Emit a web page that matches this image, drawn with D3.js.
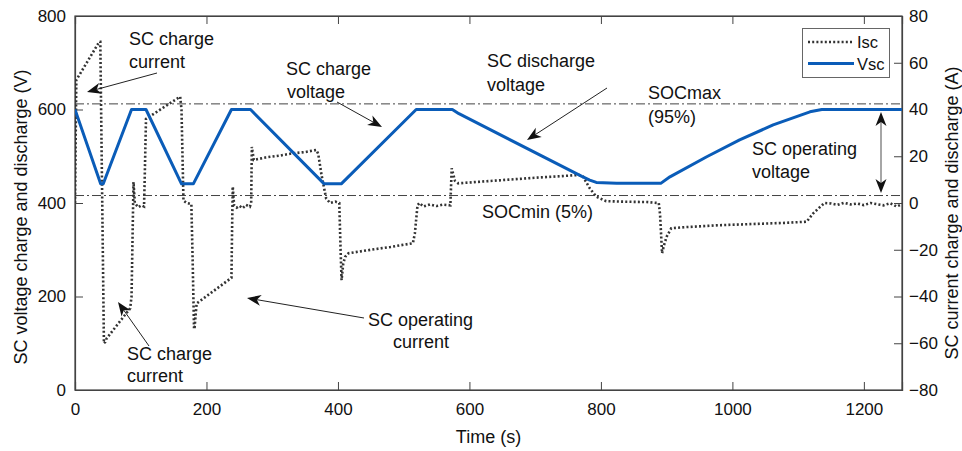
<!DOCTYPE html>
<html>
<head>
<meta charset="utf-8">
<script src="https://cdn.jsdelivr.net/npm/d3@7/dist/d3.min.js"></script>
<style>
  body { margin: 0; background: #fff; }
  svg { display: block; }
  text { font-family: "Liberation Sans", Arial, Helvetica, sans-serif; fill: #111; }
</style>
</head>
<body>
<svg id="chart" width="962" height="451"></svg>
<script>
// Axis ticks
const timeTicks = [0, 200, 400, 600, 800, 1000, 1200];
const voltTicks = [0, 200, 400, 600, 800];
const currTicks = [-80, -60, -40, -20, 0, 20, 40, 60, 80];

// Supercapacitor voltage Vsc (V) against time (s)
const vscTime = [0, 39, 43, 86, 108, 162, 180, 238, 267, 379, 405, 519, 574, 584, 771, 783, 793, 824, 891, 905, 961, 1011, 1062, 1118, 1136, 1258];
const vscVolt = [600, 441, 441, 600, 600, 441, 441, 600, 600, 441, 441, 600, 600, 591, 457, 449, 444, 442, 442, 456, 499, 535, 567, 595, 600, 600];

// Supercapacitor current Isc (A) against time (s)
const iscTime = [0, 2, 37, 38.5, 44, 46, 48, 84, 86, 89, 91, 96, 101, 105, 106, 108, 160, 162, 165, 170, 177, 179, 181, 182, 185, 238,
  239, 240, 242, 246, 250, 255, 260, 266, 268, 269, 272, 290, 310, 330, 350, 367, 370, 375, 382, 388, 396, 402,
  404, 405.5, 408, 411, 416, 450, 480, 514, 517, 521, 524, 530, 540, 550, 560, 571,
  573, 578, 583, 620, 660, 700, 740, 767, 773, 783, 793, 808, 830, 850, 870, 888,
  890, 893, 896, 900, 907, 930, 950, 980, 1000, 1030, 1050, 1080, 1113, 1123, 1140,
  1150, 1160, 1170, 1180, 1190, 1200, 1210, 1220, 1230, 1240, 1250, 1258];
const iscAmp = [0, 52.6, 69, 69, -60, -59.5, -58, -45, -40, 9, 0, -1.8, -1, -1.5, 10, 36, 45.5, 40, 1, 0, -0.5, -25, -53, -53, -43, -32,
  -10, 7, -1, -2, -1.2, -2.2, -0.8, -1.6, 0, 24, 18.4, 19.5, 20.2, 21.2, 21.8, 22.7, 21, 12, 2, 0, 0.6, 0,
  -20, -33, -26, -23, -21.5, -20, -18.8, -17.2, -13, -1, 0, -1.5, -0.6, -1.3, -0.7, -1,
  14.8, 9.5, 8.4, 9.2, 10, 10.8, 11.5, 12, 11.2, 6.3, 2.7, 0.8, 0.6, 0.5, 0.4, 0,
  -5, -21.5, -18, -14.4, -10.8, -10.3, -10, -9.5, -9.3, -9, -8.8, -8.5, -8, -4.4, 0,
  -0.2, -0.8, 0.1, -0.6, -0.2, -0.9, 0, -0.5, -1, -0.1, -1.5, -0.5];

// State-of-charge limits (V)
const socLimits = [612, 416];

const vscData = vscTime.map((t, i) => [t, vscVolt[i]]);
const iscData = iscTime.map((t, i) => [t, iscAmp[i]]);

const svg = d3.select("#chart");
const L = 75, R = 902, T = 16, B = 390;

const x = d3.scaleLinear().domain([0, 1258]).range([L, R]);
const yV = d3.scaleLinear().domain([0, 800]).range([B, T]);
const yI = d3.scaleLinear().domain([-80, 80]).range([B, T]);

svg.append("defs").append("clipPath").attr("id", "plotClip")
  .append("rect").attr("x", L).attr("y", T).attr("width", R - L).attr("height", B - T);

const axisColor = "#444";
const tickFont = "17px";

// Bottom axis
const gB = svg.append("g").attr("transform", `translate(0,${B})`)
  .call(d3.axisBottom(x).tickValues(timeTicks).tickSize(-8).tickPadding(13).tickFormat(d3.format("d")));
// Top axis (ticks only)
const gT = svg.append("g").attr("transform", `translate(0,${T})`)
  .call(d3.axisTop(x).tickValues(timeTicks).tickSize(-8).tickFormat(""));
// Left axis
const gL = svg.append("g").attr("transform", `translate(${L},0)`)
  .call(d3.axisLeft(yV).tickValues(voltTicks).tickSize(-8).tickPadding(9));
// Right axis
const gR = svg.append("g").attr("transform", `translate(${R},0)`)
  .call(d3.axisRight(yI).tickValues(currTicks).tickSize(-8).tickPadding(7));

[gB, gT, gL, gR].forEach(g => {
  g.select(".domain").attr("stroke", axisColor).attr("stroke-width", 1.2);
  g.selectAll(".tick line").attr("stroke", axisColor).attr("stroke-width", 1);
  g.selectAll(".tick text").attr("font-size", tickFont).attr("fill", "#111")
    .attr("font-family", '"Liberation Sans", Arial, sans-serif');
});
// d3 axes draw outer ticks at the ends; close the box cleanly
svg.append("rect").attr("x", L).attr("y", T).attr("width", R - L).attr("height", B - T)
  .attr("fill", "none").attr("stroke", axisColor).attr("stroke-width", 1.2);

// Axis titles
svg.append("text").attr("transform", `translate(${(L + R) / 2},443)`)
  .attr("text-anchor", "middle").attr("font-size", "18px").text("Time (s)");
svg.append("text").attr("transform", "translate(27,217) rotate(-90)")
  .attr("text-anchor", "middle").attr("font-size", "18px").text("SC voltage charge and discharge (V)");
svg.append("text").attr("transform", "translate(958,213) rotate(-90)")
  .attr("text-anchor", "middle").attr("font-size", "18px").text("SC current charge and discharge (A)");

const plot = svg.append("g").attr("clip-path", "url(#plotClip)");

// SOC limit lines
plot.selectAll("line.soc").data(socLimits).join("line").attr("class", "soc")
  .attr("x1", L).attr("x2", R)
  .attr("y1", d => yV(d)).attr("y2", d => yV(d))
  .attr("stroke", "#444").attr("stroke-width", 1)
  .attr("stroke-dasharray", "9,3,2,3");

// Isc dotted trace
plot.append("path").datum(iscData)
  .attr("d", d3.line().x(d => x(d[0])).y(d => yI(d[1])))
  .attr("fill", "none").attr("stroke", "#333").attr("stroke-width", 2.6)
  .attr("stroke-dasharray", "2,2.2");

// Vsc trace
plot.append("path").datum(vscData)
  .attr("d", d3.line().x(d => x(d[0])).y(d => yV(d[1])))
  .attr("fill", "none").attr("stroke", "#0a5cb8").attr("stroke-width", 3)
  .attr("stroke-linejoin", "round");

// Annotation arrows
function arrowHead(g, tipX, tipY, fromX, fromY, len = 14, half = 5.5, notch = 4) {
  const a = Math.atan2(tipY - fromY, tipX - fromX);
  const c = Math.cos(a), s = Math.sin(a);
  const bx = tipX - len * c, by = tipY - len * s;
  const p1 = [bx - half * s, by + half * c];
  const p2 = [bx + half * s, by - half * c];
  const pn = [tipX - (len - notch) * c, tipY - (len - notch) * s];
  g.append("path")
    .attr("d", `M${tipX},${tipY}L${p1[0]},${p1[1]}L${pn[0]},${pn[1]}L${p2[0]},${p2[1]}Z`)
    .attr("fill", "#111");
}
function arrow(x1, y1, x2, y2) {
  const g = svg.append("g");
  const a = Math.atan2(y2 - y1, x2 - x1);
  g.append("line").attr("x1", x1).attr("y1", y1)
    .attr("x2", x2 - 10 * Math.cos(a)).attr("y2", y2 - 10 * Math.sin(a))
    .attr("stroke", "#222").attr("stroke-width", 1);
  arrowHead(g, x2, y2, x1, y1);
}

arrow(157, 73, 87, 92);
arrow(149, 346, 118, 302);
arrow(364, 318, 247, 298);
arrow(337, 102, 382, 127);
arrow(607, 88, 527, 140);

// Double arrow for the operating voltage window
const dbl = svg.append("g");
dbl.append("line").attr("x1", 881).attr("x2", 881).attr("y1", 120).attr("y2", 185)
  .attr("stroke", "#888").attr("stroke-width", 1.5);
arrowHead(dbl, 881, 112, 881, 150);
arrowHead(dbl, 881, 193, 881, 150);

// Annotation labels
const notes = [
  { x: 129, y: 45, t: "SC charge" }, { x: 129, y: 68, t: "current" },
  { x: 127, y: 360, t: "SC charge" }, { x: 127, y: 382, t: "current" },
  { x: 368, y: 326, t: "SC operating" }, { x: 393, y: 348, t: "current" },
  { x: 286, y: 75, t: "SC charge" }, { x: 287, y: 98, t: "voltage" },
  { x: 487, y: 67, t: "SC discharge" }, { x: 487, y: 91, t: "voltage" },
  { x: 648, y: 99, t: "SOCmax" }, { x: 648, y: 123, t: "(95%)" },
  { x: 482, y: 218, t: "SOCmin (5%)" },
  { x: 752, y: 155, t: "SC operating" }, { x: 752, y: 178, t: "voltage" }
];
svg.selectAll("text.note").data(notes).join("text").attr("class", "note")
  .attr("x", d => d.x).attr("y", d => d.y).attr("font-size", "18px").text(d => d.t);

// Legend
const lg = svg.append("g");
lg.append("rect").attr("x", 802.5).attr("y", 28.5).attr("width", 87).attr("height", 49)
  .attr("fill", "#fff").attr("stroke", "#666").attr("stroke-width", 1);
lg.append("line").attr("x1", 808).attr("x2", 854).attr("y1", 42).attr("y2", 42)
  .attr("stroke", "#333").attr("stroke-width", 2.6).attr("stroke-dasharray", "2,2.2");
lg.append("line").attr("x1", 808).attr("x2", 854).attr("y1", 63.5).attr("y2", 63.5)
  .attr("stroke", "#0a5cb8").attr("stroke-width", 3);
lg.append("text").attr("x", 857).attr("y", 48).attr("font-size", "16.5px").text("Isc");
lg.append("text").attr("x", 857).attr("y", 69.5).attr("font-size", "16.5px").text("Vsc");
</script>
</body>
</html>
